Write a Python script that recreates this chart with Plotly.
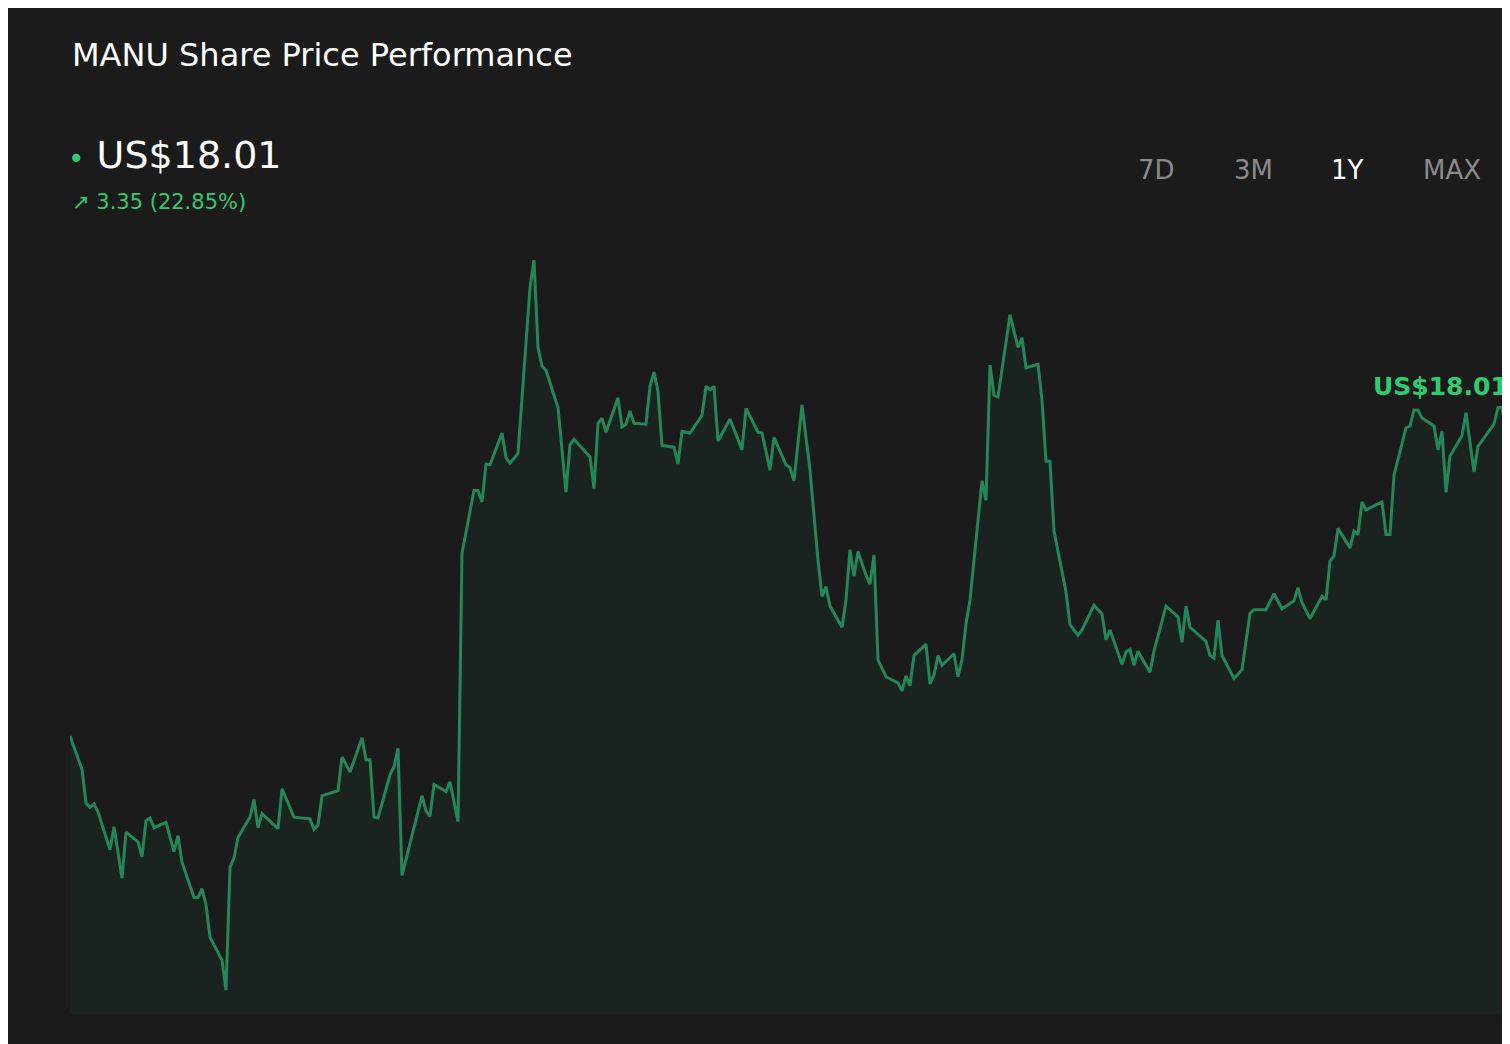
import plotly.graph_objects as go
import pandas as pd

# days since start of the 1Y window, and closing price (US$)
days = [0, 3, 4, 5, 6, 7, 10, 11, 13, 14,
        17, 18, 19, 20, 21, 24, 26, 27, 28, 31,
        32, 33, 34, 35, 38, 39, 40, 41, 42, 45,
        46, 47, 48, 52, 53, 56, 60, 61, 62, 63,
        67, 68, 70, 73, 74, 75, 76, 77, 80, 81,
        82, 83, 88, 89, 90, 91, 94, 95, 97, 98,
        101, 102, 103, 104, 105, 108, 109, 110, 112, 115,
        116, 117, 118, 119, 122, 124, 125, 126, 130, 131,
        132, 133, 134, 137, 138, 139, 140, 141, 144, 145,
        146, 147, 148, 151, 152, 153, 155, 158, 159, 160,
        161, 162, 165, 168, 169, 172, 173, 175, 176, 179,
        180, 181, 183, 185, 187, 188, 189, 190, 193, 194,
        195, 196, 197, 199, 200, 201, 202, 204, 207, 208,
        209, 210, 211, 214, 215, 216, 217, 218, 221, 222,
        223, 224, 225, 228, 229, 230, 231, 232, 235, 237,
        238, 239, 242, 243, 244, 245, 246, 249, 250, 252,
        253, 256, 258, 259, 260, 263, 264, 265, 266, 267,
        270, 271, 274, 277, 278, 279, 280, 284, 285, 286,
        287, 288, 291, 293, 295, 296, 299, 301, 303, 306,
        307, 308, 310, 313, 314, 315, 316, 317, 320, 321,
        322, 323, 324, 328, 329, 330, 331, 334, 335, 336,
        337, 338, 341, 342, 343, 344, 345, 348, 349, 350,
        351, 352, 356, 357, 358, 359, 360]

prices = [14.66, 14.28, 13.90, 13.85, 13.89, 13.80, 13.37, 13.63, 13.05, 13.57,
          13.46, 13.29, 13.70, 13.73, 13.62, 13.68, 13.35, 13.53, 13.23, 12.83,
          12.83, 12.93, 12.75, 12.38, 12.12, 11.78, 13.17, 13.28, 13.51, 13.74,
          13.94, 13.62, 13.78, 13.61, 14.06, 13.74, 13.72, 13.60, 13.65, 13.98,
          14.04, 14.42, 14.25, 14.64, 14.39, 14.39, 13.74, 13.73, 14.22, 14.31,
          14.52, 13.08, 13.98, 13.81, 13.75, 14.11, 14.03, 14.14, 13.69, 16.73,
          17.44, 17.44, 17.31, 17.74, 17.73, 18.09, 17.81, 17.75, 17.86, 19.74,
          20.05, 19.06, 18.85, 18.80, 18.38, 17.42, 17.96, 18.02, 17.82, 17.46,
          18.20, 18.26, 18.10, 18.49, 18.16, 18.19, 18.34, 18.20, 18.19, 18.62,
          18.78, 18.56, 17.95, 17.93, 17.74, 18.11, 18.09, 18.29, 18.62, 18.58,
          18.62, 18.00, 18.25, 17.90, 18.37, 18.10, 18.09, 17.67, 18.04, 17.73,
          17.70, 17.55, 18.41, 17.67, 16.65, 16.24, 16.35, 16.13, 15.89, 16.20,
          16.77, 16.47, 16.75, 16.48, 16.38, 16.71, 15.52, 15.33, 15.26, 15.17,
          15.34, 15.23, 15.57, 15.70, 15.25, 15.35, 15.57, 15.46, 15.59, 15.33,
          15.52, 15.93, 16.20, 17.55, 17.33, 18.86, 18.52, 18.50, 19.43, 19.06,
          19.17, 18.83, 18.87, 18.46, 17.77, 17.77, 16.98, 16.29, 15.92, 15.80,
          15.86, 16.14, 16.04, 15.75, 15.86, 15.47, 15.61, 15.64, 15.46, 15.62,
          15.38, 15.62, 16.13, 16.01, 15.72, 16.13, 15.89, 15.73, 15.57, 15.54,
          15.97, 15.57, 15.31, 15.41, 16.05, 16.09, 16.09, 16.27, 16.10, 16.19,
          16.34, 16.17, 15.99, 16.24, 16.20, 16.64, 16.70, 17.01, 16.79, 16.98,
          16.94, 17.31, 17.22, 17.31, 16.94, 16.94, 17.61, 18.15, 18.17, 18.35,
          18.35, 18.26, 18.17, 17.90, 18.11, 17.42, 17.83, 18.06, 18.32, 18.01,
          17.65, 17.94, 18.19, 18.38, 18.38, 18.09, 18.01]

ranges = ["7D", "3M", "1Y", "MAX"]
active_range = "1Y"
last_price = "US$18.01"
change_text = "↗ 3.35 (22.85%)"

dates = pd.Timestamp("2023-10-01") + pd.to_timedelta(days, unit="D")

GREEN = "#24875a"
BRIGHT = "#2ecc71"
BG = "#1b1b1b"
FONT = "DejaVu Sans"

fig = go.Figure()
fig.add_trace(go.Scatter(
    x=dates, y=prices, mode="lines",
    line=dict(color=GREEN, width=3),
    fill="tozeroy", fillcolor="rgba(36,135,90,0.08)",
    hoverinfo="skip", showlegend=False))

# page body has an 8px margin, so the figure is drawn 8px in from the window corner
OFF = 8
W, H = 1510 - OFF, 1044 - OFF
L, R, T, B = 70 - OFF, 0, 230 - OFF, 30


def px(x):
    return (x - OFF - L) / (W - L - R)


def py(y):
    return (H - B - (y - OFF)) / (H - T - B)


ann = [
    dict(x=px(70), y=py(55), text="MANU Share Price Performance",
         font=dict(size=32, color="#ffffff"), xanchor="left"),
    dict(x=px(66), y=py(155), text="<span style='color:%s;font-size:28px'>•</span> %s" % (BRIGHT, last_price),
         font=dict(size=38, color="#ffffff"), xanchor="left"),
    dict(x=px(70), y=py(202), text=change_text,
         font=dict(size=21, color=BRIGHT), xanchor="left"),
    dict(x=1, y=py(386), text="<b>%s</b>" % last_price,
         font=dict(size=25, color=BRIGHT), xanchor="right"),
]
for label, cx in zip(ranges, [1156, 1253, 1347, 1452]):
    ann.append(dict(x=px(cx), y=py(170), text=label, xanchor="center",
                    font=dict(size=26, color="#ffffff" if label == active_range else "#8a8a8a")))
for a in ann:
    a["xref"] = "paper"
    a["yref"] = "paper"
    a["yanchor"] = "middle"
    a["showarrow"] = False

fig.update_layout(
    width=W, height=H,
    paper_bgcolor=BG, plot_bgcolor=BG,
    margin=dict(l=L, r=R, t=T, b=B),
    font=dict(family=FONT),
    xaxis=dict(visible=False, range=[dates[0], dates[-1]]),
    yaxis=dict(visible=False, range=[11.51, 20.39]),
    annotations=ann,
)

fig.write_html("out.html")
